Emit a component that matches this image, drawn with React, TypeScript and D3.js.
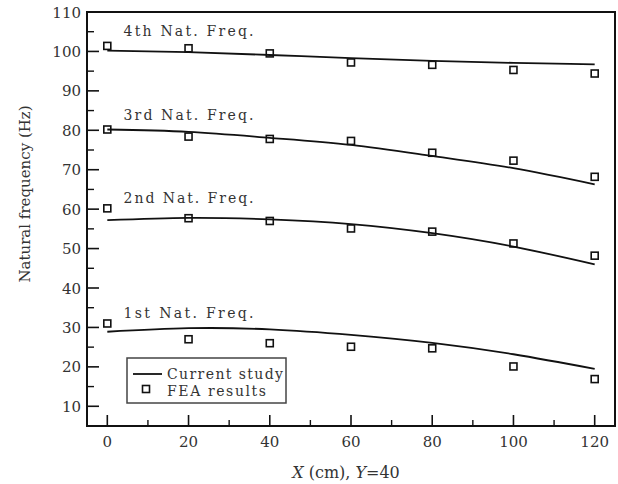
import React from 'react';
import * as d3 from 'd3';

// positions along X (cm)
const xPositions = [0, 20, 40, 60, 80, 100, 120];

// current study (analytical curves)
const study1 = [28.9, 29.8, 29.5, 28.1, 26.1, 23.2, 19.5];
const study2 = [57.2, 57.8, 57.4, 56.2, 53.9, 50.5, 46.0];
const study3 = [80.2, 79.6, 78.1, 76.3, 73.5, 70.4, 66.3];
const study4 = [100.2, 99.8, 99.1, 98.3, 97.6, 97.1, 96.7];

// FEA results (squares)
const fea1 = [31.0, 27.0, 26.0, 25.1, 24.7, 20.1, 16.9];
const fea2 = [60.2, 57.7, 57.0, 55.1, 54.3, 51.3, 48.2];
const fea3 = [80.2, 78.4, 77.8, 77.3, 74.3, 72.3, 68.2];
const fea4 = [101.4, 100.8, 99.5, 97.2, 96.6, 95.3, 94.4];

const modeLabels = ['1st Nat. Freq.', '2nd Nat. Freq.', '3rd Nat. Freq.', '4th Nat. Freq.'];
const labelValues = [32.5, 61.5, 82.5, 104];

const xTicks = [0, 20, 40, 60, 80, 100, 120];
const xMinor = [10, 30, 50, 70, 90, 110];
const yTicks = [10, 20, 30, 40, 50, 60, 70, 80, 90, 100, 110];
const yMinor = [15, 25, 35, 45, 55, 65, 75, 85, 95, 105];

const studies = [study1, study2, study3, study4];
const feas = [fea1, fea2, fea3, fea4];

const font = '"DejaVu Serif", "Liberation Serif", serif';

export default function App() {
  const width = 618;
  const height = 484;
  const left = 87, right = 615, top = 12, bottom = 426;

  const x = d3.scaleLinear().domain([-5, 125]).range([left, right]);
  const y = d3.scaleLinear().domain([5, 110]).range([bottom, top]);

  const line = d3.line<number>()
    .x((d, i) => x(xPositions[i]))
    .y(d => y(d))
    .curve(d3.curveNatural);

  const sq = 7;

  return (
    <svg width={width} height={height} style={{ position: 'absolute', left: 0, top: 0, background: '#fff' }}
      fontFamily={font}>
      <rect x={0} y={0} width={width} height={height} fill="#fff" />

      {studies.map((s, k) => (
        <path key={'l' + k} d={line(s) || ''} fill="none" stroke="#111" strokeWidth={1.8} />
      ))}

      {feas.map((f, k) => f.map((v, i) => (
        <rect key={'s' + k + '-' + i} x={x(xPositions[i]) - sq / 2} y={y(v) - sq / 2} width={sq} height={sq}
          fill="none" stroke="#111" strokeWidth={1.6} />
      )))}

      {modeLabels.map((t, k) => (
        <text key={'m' + k} x={x(4)} y={y(labelValues[k])} fontSize={14} fill="#333"
          textLength={130} lengthAdjust="spacing">{t}</text>
      ))}

      {/* ticks */}
      {xTicks.map(t => (
        <g key={'xt' + t}>
          <line x1={x(t)} x2={x(t)} y1={bottom} y2={bottom - 11} stroke="#111" strokeWidth={1.6} />
          <text x={x(t)} y={bottom + 21} textAnchor="middle" fontSize={15} fill="#333">{t}</text>
        </g>
      ))}
      {xMinor.map(t => (
        <line key={'xm' + t} x1={x(t)} x2={x(t)} y1={bottom} y2={bottom - 6} stroke="#111" strokeWidth={1.4} />
      ))}
      {yTicks.map(t => (
        <g key={'yt' + t}>
          <line x1={left} x2={left + 12} y1={y(t)} y2={y(t)} stroke="#111" strokeWidth={1.6} />
          <text x={left - 6} y={y(t) + 5.5} textAnchor="end" fontSize={15} fill="#333">{t}</text>
        </g>
      ))}
      {yMinor.map(t => (
        <line key={'ym' + t} x1={left} x2={left + 7} y1={y(t)} y2={y(t)} stroke="#111" strokeWidth={1.4} />
      ))}

      <rect x={left} y={top} width={right - left} height={bottom - top} fill="none" stroke="#111" strokeWidth={2} />

      {/* legend */}
      <rect x={127} y={358} width={159} height={45} fill="#fff" stroke="#444" strokeWidth={1.5} />
      <line x1={133} x2={162} y1={374} y2={374} stroke="#111" strokeWidth={1.8} />
      <text x={167} y={379} fontSize={14} fill="#333" textLength={116} lengthAdjust="spacing">Current study</text>
      <rect x={146 - sq / 2} y={389 - sq / 2} width={sq} height={sq} fill="none" stroke="#111" strokeWidth={1.6} />
      <text x={167} y={396} fontSize={14} fill="#333" textLength={99} lengthAdjust="spacing">FEA results</text>

      {/* axis titles */}
      <text x={346} y={478} textAnchor="middle" fontSize={16} fill="#333">
        <tspan fontStyle="italic">X</tspan> (cm), <tspan fontStyle="italic">Y</tspan>=40
      </text>
      <text transform="translate(30,194) rotate(-90)" textAnchor="middle" fontSize={15} fill="#333">
        Natural frequency (Hz)
      </text>
    </svg>
  );
}
